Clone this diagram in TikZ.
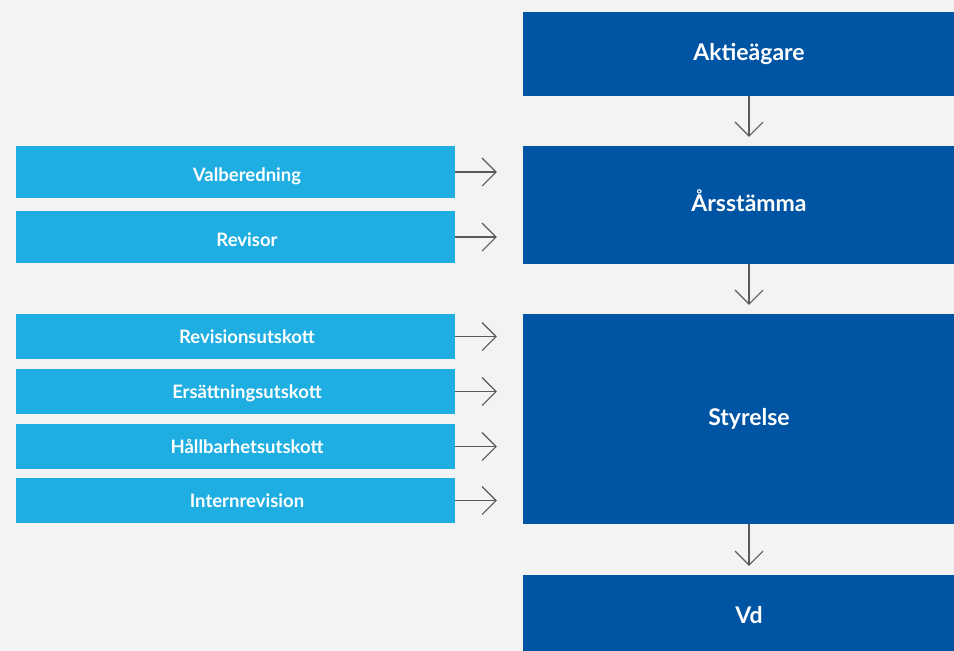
\documentclass[tikz,border=0pt]{standalone}
\usepackage{fontspec}
\setmainfont{Lato}
\usetikzlibrary{positioning,arrows.meta}
\definecolor{ogbg}{HTML}{F3F3F3}
\definecolor{ogdark}{HTML}{0054A4}
\definecolor{oglight}{HTML}{1FAEE2}
\definecolor{ogline}{HTML}{5A5A5A}
\tikzset{
  mainbox/.style ={fill=ogdark, text=white, minimum width=452pt, inner sep=0pt,
                   text height=16pt, text depth=4pt,
                   font=\fontsize{23}{26}\selectfont\bfseries},
  sidebox/.style ={fill=oglight, text=white, minimum width=439pt, inner sep=0pt,
                   minimum height=45pt, text height=14pt, text depth=0pt,
                   font=\fontsize{18.5}{22}\selectfont\bfseries,
                   execute at begin node=\hspace*{23pt}},
  tallside/.style={sidebox, minimum height=52pt, text height=18pt},
  flow/.style    ={draw=ogline, line width=1.1pt,
                   -{Straight Barb[length=14pt,width=28pt,line width=1.1pt]}},
}
\begin{document}
\begin{tikzpicture}[x=1pt,y=-1pt]
    \fill[ogbg] (0,0) rectangle (954,651);
    \useasboundingbox (0,0) rectangle (954,651);
    % --- right column ---
    \node[mainbox,minimum height=84pt]  (owners) at (749,54)  {Aktieägare};
    \node[mainbox,minimum height=118pt] (agm)    at (749,205) {Årsstämma};
    \node[mainbox,minimum height=210pt] (board)  at (749,419) {Styrelse};
    \node[mainbox,minimum height=84pt]  (ceo)    at (749,617) {Vd};
    % --- left column ---
    \node[tallside] (nom)   at (235.5,172) {Valberedning};
    \node[tallside] (audit) at (235.5,237) {Revisor};
    \node[sidebox] (ac) at (235.5,336.5) {Revisionsutskott};
    \node[sidebox] (rc) at (235.5,391.5) {Ersättningsutskott};
    \node[sidebox] (sc) at (235.5,446.5) {Hållbarhetsutskott};
    \node[sidebox] (ia) at (235.5,500.5) {Internrevision};
    % vertical flow
    \draw[flow] (owners.south) -- ([yshift=9pt]agm.north);
    \draw[flow] (agm.south) -- ([yshift=9pt]board.north);
    \draw[flow] (board.south) -- ([yshift=9pt]ceo.north);
    % side flows
    \foreach \n in {nom,audit}
        \draw[flow] (\n.east) -- ([xshift=-26pt]\n.east -| agm.west);
    \foreach \n in {ac,rc,sc,ia}
        \draw[flow] (\n.east) -- ([xshift=-26pt]\n.east -| board.west);
\end{tikzpicture}
\end{document}
